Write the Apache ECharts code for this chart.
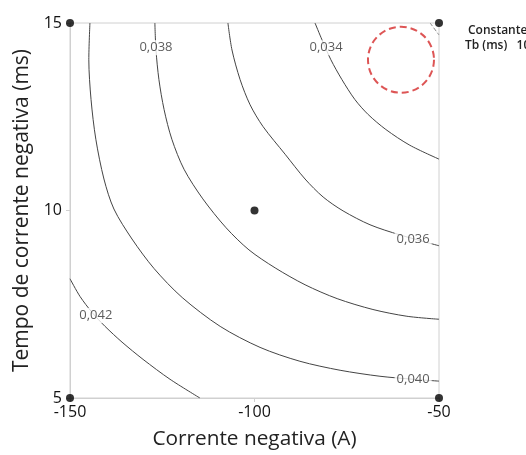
<!DOCTYPE html>
<html>
<head>
<meta charset="utf-8">
<script src="https://cdn.jsdelivr.net/npm/echarts@6/dist/echarts.min.js"></script>
<style>
html,body{margin:0;padding:0;background:#fff;}
#c{width:526px;height:455px;}
</style>
</head>
<body>
<div id="c"></div>
<script>
// ---- data ----
const xTitle = 'Corrente negativa (A)';
const yTitle = 'Tempo de corrente negativa (ms)';
const xRange = [-150, -50];
const yRange = [5, 15];
const holdLabel = ['Constante', 'Tb (ms)   10'];

const c032 = [[-52.4, 15.0], [-50.0, 14.68]];
const c034 = [[-83.6, 15.0], [-81.7, 14.55], [-79.3, 14.02], [-76.3, 13.49], [-72.8, 12.96], [-69.2, 12.56], [-64.4, 12.16], [-57.9, 11.74], [-50.0, 11.37]];
const c036 = [[-107.2, 15.0], [-106.1, 14.28], [-103.9, 13.49], [-101.2, 12.82], [-97.7, 12.24], [-91.7, 11.50], [-86.3, 10.84], [-81.4, 10.36], [-76.0, 9.99], [-68.7, 9.62], [-60.6, 9.35], [-50.0, 9.06]];
const c038 = [[-127.0, 15.0], [-126.7, 14.28], [-125.9, 13.49], [-124.5, 12.69], [-122.4, 11.90], [-119.1, 11.10], [-114.0, 10.31], [-107.7, 9.54], [-101.5, 8.95], [-94.4, 8.47], [-86.3, 8.02], [-77.6, 7.65], [-67.9, 7.36], [-58.7, 7.18], [-50.0, 7.10]];
const c040 = [[-144.6, 15.0], [-144.9, 14.02], [-144.3, 12.96], [-143.0, 11.90], [-140.8, 10.84], [-138.1, 10.04], [-133.2, 9.24], [-127.2, 8.45], [-119.6, 7.68], [-109.3, 6.91], [-98.5, 6.35], [-87.7, 5.98], [-76.8, 5.74], [-66.0, 5.58], [-57.0, 5.50], [-50.0, 5.45]];
const c042 = [[-150.0, 8.18], [-147.3, 7.71], [-144.0, 7.28], [-140.5, 6.91], [-135.9, 6.49], [-130.2, 6.03], [-122.9, 5.50], [-114.8, 5.00]];

const contourLabels = [
  [-80.6, 14.34, '0,034'],
  [-57.0, 9.24, '0,036'],
  [-126.7, 14.34, '0,038'],
  [-57.0, 5.50, '0,040'],
  [-143.0, 7.20, '0,042']
];
const designPoints = [[-150, 15], [-50, 15], [-150, 5], [-50, 5], [-100, 10]];
const optimum = [[-60.3, 14.02]];

// ---- chart ----
const FONT = "'Open Sans', 'Noto Sans', sans-serif";
const chart = echarts.init(document.getElementById('c'), null, {renderer: 'canvas'});

function contour(data, dashed) {
  return {
    type: 'line', data: data, smooth: 0.3, symbol: 'none', silent: true,
    lineStyle: {color: dashed ? '#888' : '#444', width: 1, type: dashed ? 'dashed' : 'solid'},
    z: 2
  };
}

chart.setOption({
  animation: false,
  backgroundColor: '#fff',
  grid: {left: 70, right: 87, top: 23, bottom: 55, show: true, borderColor: '#d0d0d0', borderWidth: 1},
  xAxis: {
    type: 'value', min: xRange[0], max: xRange[1], interval: 50,
    name: xTitle, nameLocation: 'middle', nameGap: 31,
    nameTextStyle: {fontFamily: FONT, fontSize: 20.8, color: '#222'},
    axisLine: {show: true, lineStyle: {color: '#d0d0d0'}},
    axisTick: {show: true, length: 4, lineStyle: {color: '#d0d0d0'}},
    axisLabel: {fontFamily: FONT, fontSize: 16, color: '#111', margin: 6},
    splitLine: {show: false}
  },
  yAxis: {
    type: 'value', min: yRange[0], max: yRange[1], interval: 5,
    name: yTitle, nameLocation: 'middle', nameGap: 31, nameRotate: 90,
    nameTextStyle: {fontFamily: FONT, fontSize: 21, color: '#222'},
    axisLine: {show: true, lineStyle: {color: '#d0d0d0'}},
    axisTick: {show: true, length: 4, lineStyle: {color: '#d0d0d0'}},
    axisLabel: {fontFamily: FONT, fontSize: 16, color: '#111', margin: 8},
    splitLine: {show: false}
  },
  series: [
    contour(c032, true),
    contour(c034), contour(c036), contour(c038), contour(c040), contour(c042),
    {
      type: 'scatter', data: contourLabels, symbolSize: 0, silent: true, z: 5,
      label: {
        show: true, position: 'inside', formatter: p => p.data[2],
        fontFamily: FONT, fontSize: 13, color: '#333',
        backgroundColor: '#fff', padding: [1, 2]
      }
    },
    {
      type: 'scatter', data: optimum, symbol: 'circle', symbolSize: 66, silent: true, z: 6,
      itemStyle: {color: 'rgba(0,0,0,0)', borderColor: '#d42a2a', borderWidth: 2, borderType: [7, 4]}
    },
    {
      type: 'scatter', data: designPoints, symbol: 'circle', symbolSize: 8, silent: true, z: 7,
      itemStyle: {color: '#000'}, clip: false
    }
  ],
  graphic: [
    {type: 'text', left: 468, top: 25, style: {text: holdLabel[0], fontFamily: FONT, fontSize: 12, fontWeight: 600, fill: '#222'}},
    {type: 'text', left: 465, top: 40, style: {text: holdLabel[1], fontFamily: FONT, fontSize: 12, fontWeight: 600, fill: '#222'}}
  ]
});
</script>
</body>
</html>
